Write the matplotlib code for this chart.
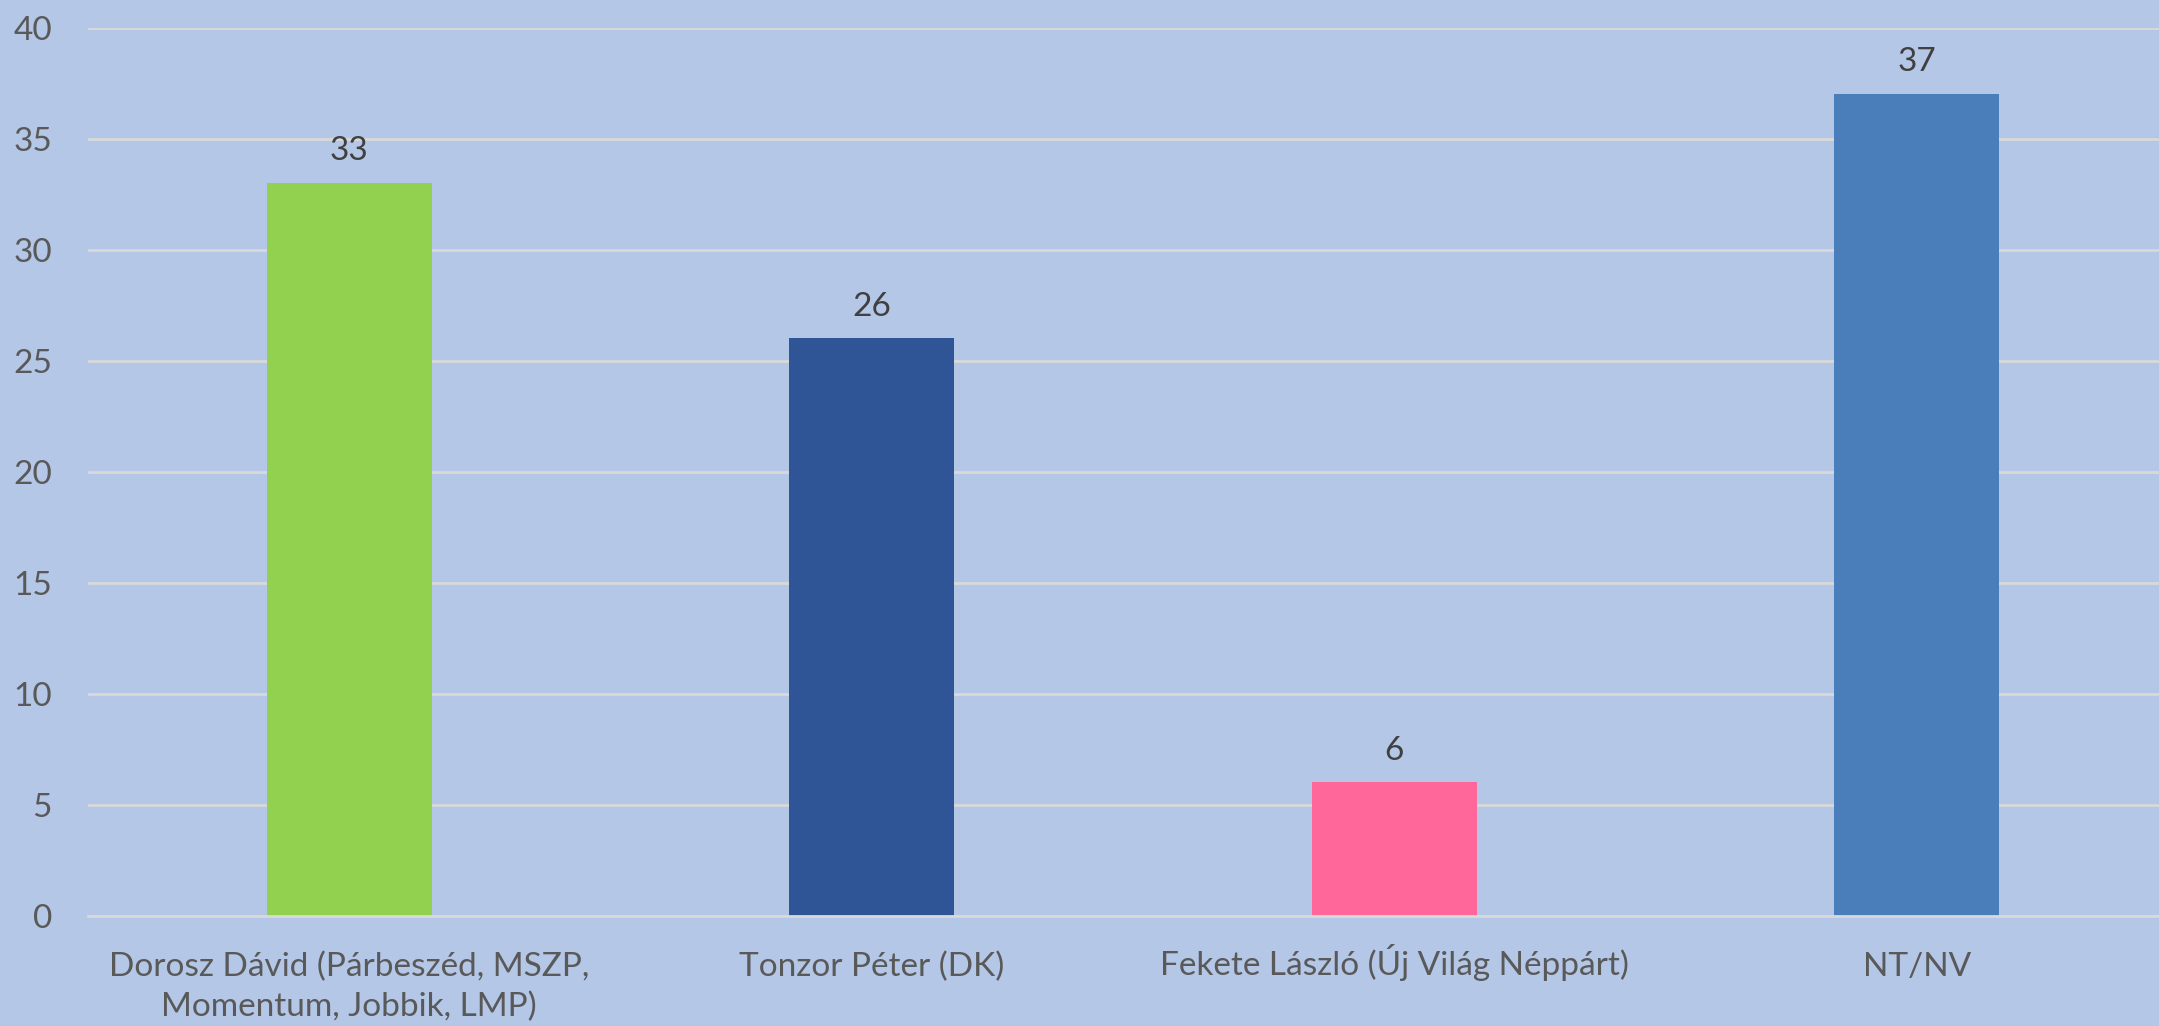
import matplotlib
matplotlib.use("Agg")
import matplotlib.pyplot as plt
from matplotlib.transforms import ScaledTranslation

categories = ["Dorosz Dávid (Párbeszéd, MSZP,\nMomentum, Jobbik, LMP)",
              "Tonzor Péter (DK)",
              "Fekete László (Új Világ Néppárt)",
              "NT/NV"]
values = [33, 26, 6, 37]
colors = ["#92D050", "#2F5597", "#FF6699", "#4A7EBB"]
yticks = [0, 5, 10, 15, 20, 25, 30, 35, 40]

plt.rcParams['font.family'] = ['Lato', 'DejaVu Sans']

W, H = 2159, 1026
fig = plt.figure(figsize=(W/100, H/100), dpi=100)
bg = "#B4C7E7"
fig.patch.set_facecolor(bg)
ax = fig.add_axes([88/W, (H-915.7)/H, 2090/W, (915.7-27.5)/H])
ax.set_facecolor(bg)

x = range(len(categories))
bars = ax.bar(x, values, width=0.315, color=colors, zorder=3)
for xi, v in zip(x, values):
    ax.annotate(str(v), (xi, v), xytext=(0, 12), textcoords="offset points",
                ha="center", va="bottom", fontsize=24, color="#404040")

ax.set_xlim(-0.5, len(categories) - 0.5)
ax.set_ylim(0, 40)
ax.set_yticks(yticks)
ax.set_yticklabels([str(t) for t in yticks])
ax.set_xticks(list(x))
ax.set_xticklabels(categories, linespacing=1.4)
ax.tick_params(axis='y', length=0, pad=26, labelsize=24, labelcolor="#595959")
ax.tick_params(axis='x', length=0, pad=26, labelsize=24, labelcolor="#595959")
ax.grid(axis='y', color="#D9D9D9", linewidth=2, zorder=0)
for s in ["top", "right", "left"]:
    ax.spines[s].set_visible(False)
ax.spines["bottom"].set_color("#D9D9D9")
ax.spines["bottom"].set_linewidth(2)
ax.spines["bottom"].set_zorder(4)

# nudge the accented single-line label up to match the others' baseline
lbl = ax.get_xticklabels()[2]
lbl.set_transform(lbl.get_transform() + ScaledTranslation(0, 8/100, fig.dpi_scale_trans))

fig.savefig("out.png", dpi=100, facecolor=bg)
